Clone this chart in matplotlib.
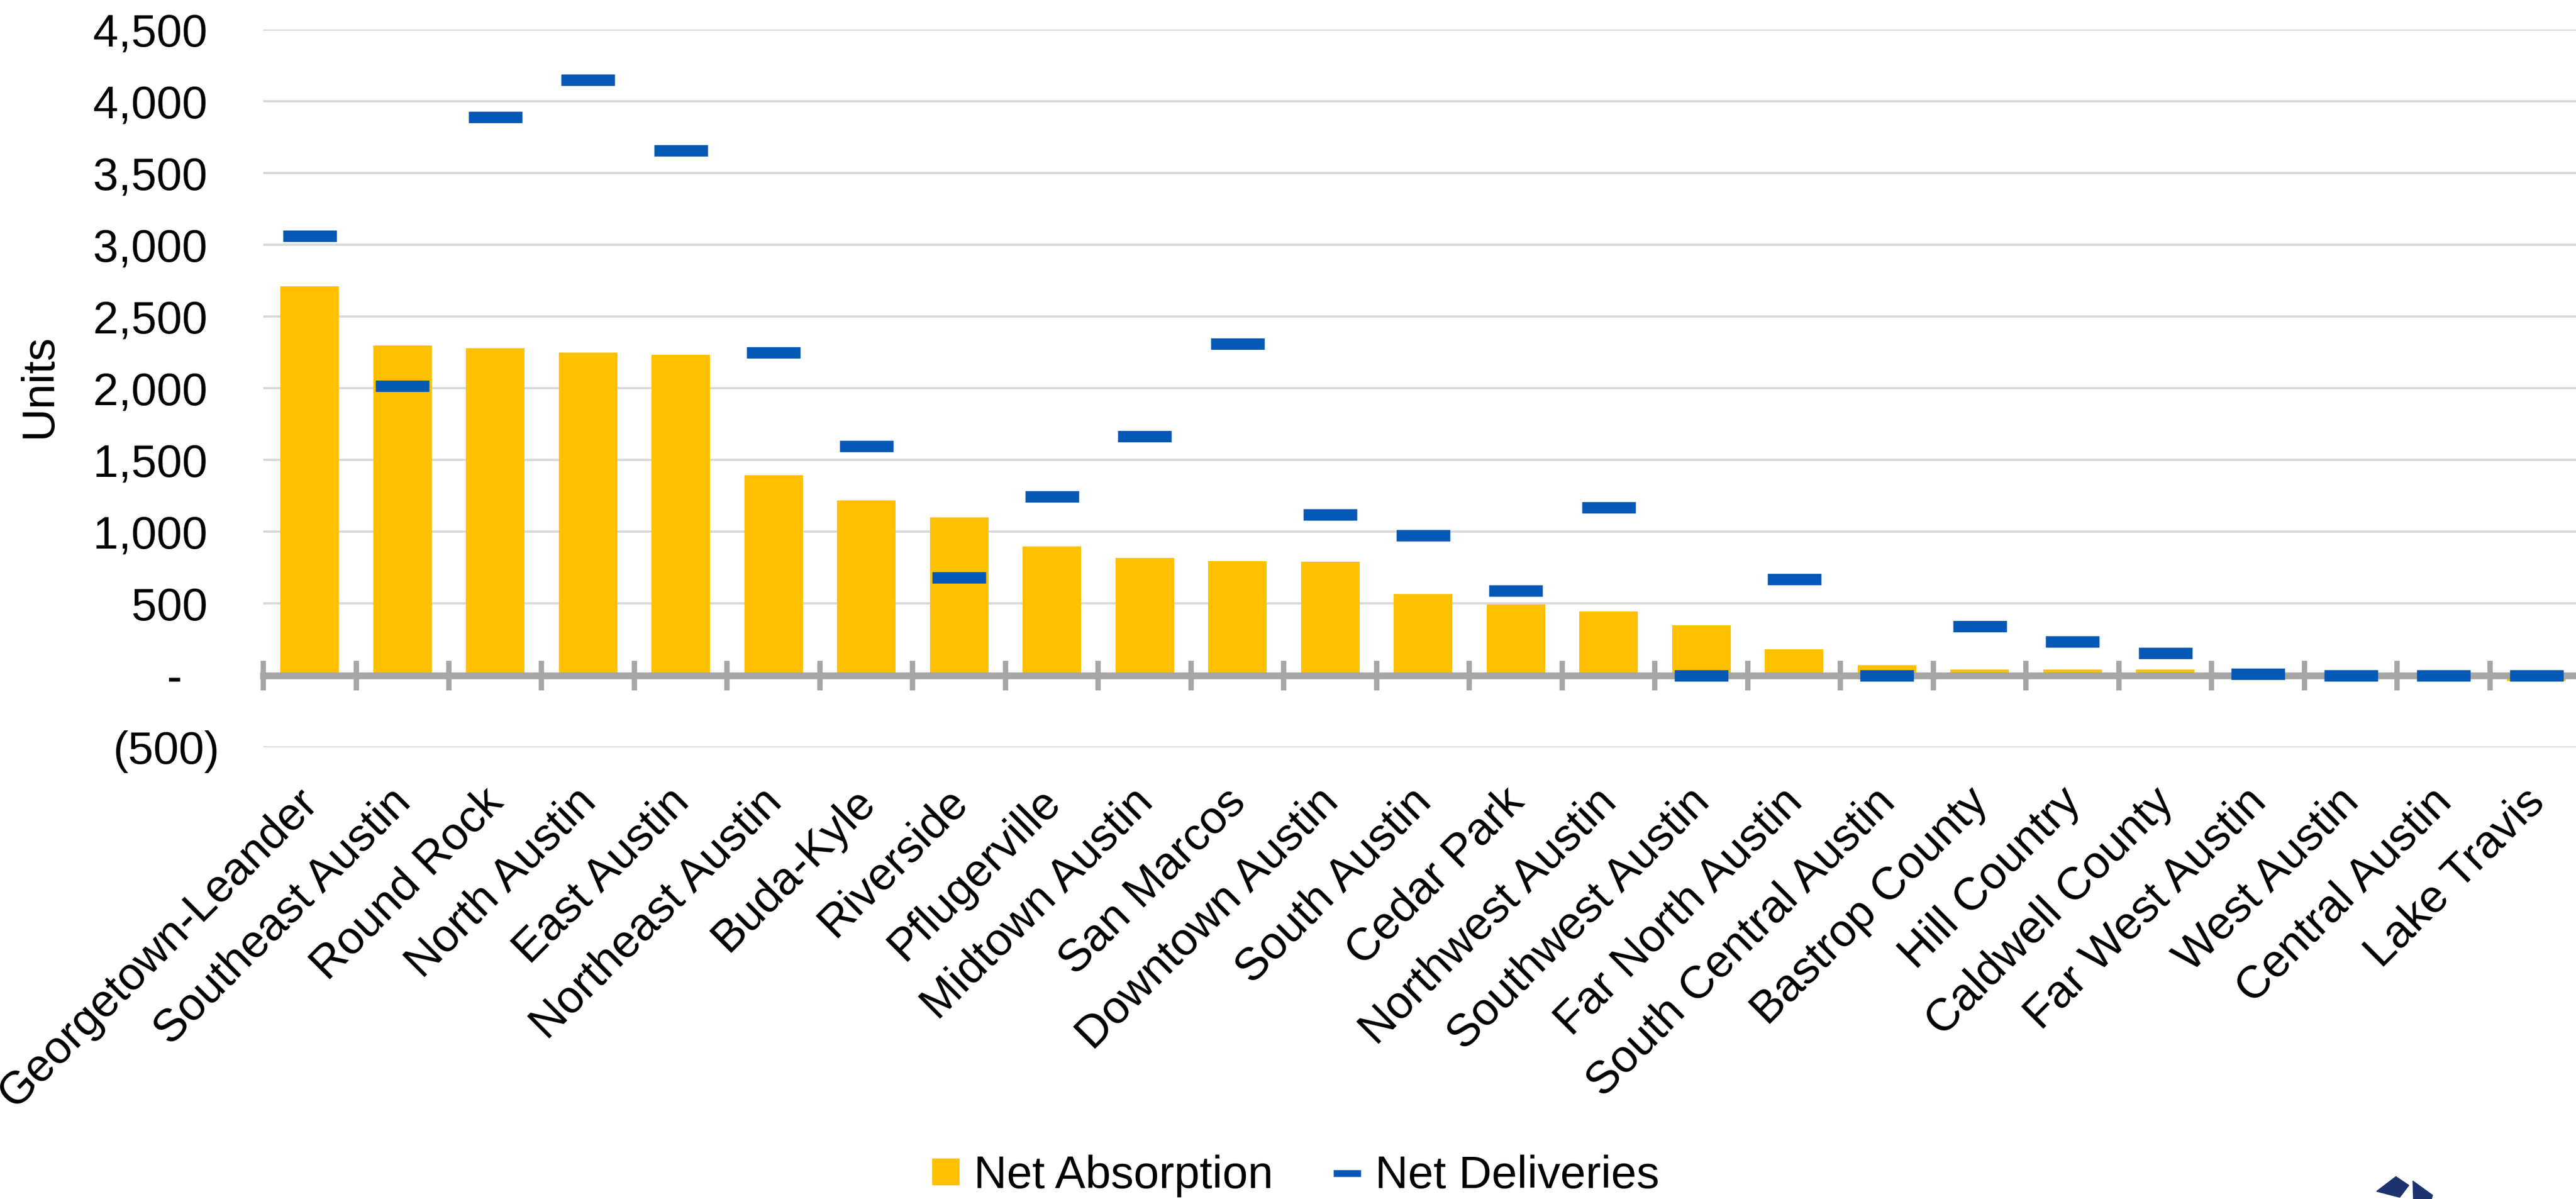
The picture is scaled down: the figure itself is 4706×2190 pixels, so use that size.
import numpy as np
import matplotlib
matplotlib.use("Agg")
import matplotlib.pyplot as plt
from matplotlib.patches import Patch, Polygon
from matplotlib.lines import Line2D
from matplotlib.ticker import FixedLocator, FuncFormatter
from matplotlib.transforms import ScaledTranslation

plt.rcParams['font.family'] = ['Liberation Sans', 'DejaVu Sans']

# Submarket data (units)
submarkets = [
    "Georgetown-Leander", "Southeast Austin", "Round Rock", "North Austin",
    "East Austin", "Northeast Austin", "Buda-Kyle", "Riverside", "Pflugerville",
    "Midtown Austin", "San Marcos", "Downtown Austin", "South Austin",
    "Cedar Park", "Northwest Austin", "Southwest Austin", "Far North Austin",
    "South Central Austin", "Bastrop County", "Hill Country", "Caldwell County",
    "Far West Austin", "West Austin", "Central Austin", "Lake Travis",
]
net_absorption = [
    2710, 2300, 2280, 2250, 2235, 1395, 1220, 1100, 900, 820, 795, 790,
    565, 495, 445, 350, 180, 70, 40, 40, 40, 0, 0, -20, -40,
]
net_deliveries = [
    3060, 2015, 3890, 4150, 3655, 2250, 1595, 680, 1245, 1665, 2310, 1120,
    975, 590, 1170, 0, 670, 0, 340, 235, 155, 8, 0, 0, 0,
]
y_ticks = [-500, 0, 500, 1000, 1500, 2000, 2500, 3000, 3500, 4000, 4500]
legend_labels = ["Net Absorption", "Net Deliveries"]

YELLOW = "#FFC000"
BLUE = "#0558B5"
GRID = "#D9D9D9"
AXIS_GRAY = "#A6A6A6"
FS = 60

W, H = 4706, 2190
fig = plt.figure(figsize=(W / 100, H / 100), dpi=100)
fig.patch.set_facecolor("white")

ax_left, ax_right = 481, 4718.5
ax_top, ax_bottom = 53.8, 1364.6
ax = fig.add_axes([ax_left / W, 1 - ax_bottom / H,
                   (ax_right - ax_left) / W, (ax_bottom - ax_top) / H])

x = np.arange(len(submarkets))
ymin, ymax = y_ticks[0], y_ticks[-1]
ax.set_xlim(-0.5, len(submarkets) - 0.5)
ax.set_ylim(ymin, ymax)

# Bars: net absorption
ax.bar(x, net_absorption, width=0.63, color=YELLOW, zorder=2)

# Dashes: net deliveries
ax.hlines(net_deliveries, x - 0.29, x + 0.29, colors=BLUE, linewidth=15,
          capstyle="butt", zorder=4)

# Gridlines and y axis
ax.set_axisbelow(True)
ax.yaxis.set_major_locator(FixedLocator(y_ticks))
ax.grid(axis="y", color=GRID, linewidth=2.9)
ax.grid(axis="x", visible=False)


def fmt(v, pos):
    if v > 0:
        return f"{int(v):,} "
    if v < 0:
        return f"({int(-v):,})"
    return "-   "


ax.yaxis.set_major_formatter(FuncFormatter(fmt))
ax.tick_params(axis="y", length=0, pad=57, labelsize=FS)
for s in ax.spines.values():
    s.set_visible(False)

ax.set_ylabel("Units", fontsize=FS)
ax.yaxis.set_label_coords(-0.0873, 0.503)

# Category labels along the bottom of the plot area
ax.set_xticks(x)
ax.set_xticklabels(submarkets, rotation=45, ha="right",
                   rotation_mode="anchor", fontsize=FS)
ax.tick_params(axis="x", length=0, pad=20)
shift = ScaledTranslation(-25 / 100, -33 / 100, fig.dpi_scale_trans)
for lbl in ax.get_xticklabels():
    lbl.set_transform(lbl.get_transform() + shift)

# Category axis crossing at zero with boundary ticks
zero_frac = (0 - ymin) / (ymax - ymin)
sec = ax.secondary_xaxis(zero_frac)
sec.set_xticks(np.arange(-0.5, len(submarkets), 1.0))
sec.set_xticklabels([])
sec.tick_params(axis="x", direction="inout", length=39, width=7,
                color=AXIS_GRAY)
for name, s in sec.spines.items():
    s.set_visible(name == "bottom")
sec.spines["bottom"].set_color(AXIS_GRAY)
sec.spines["bottom"].set_linewidth(9)
sec.set_zorder(3)

# Legend
handles = [
    Patch(facecolor=YELLOW, edgecolor="none"),
    Line2D([0], [0], color=BLUE, linewidth=9, solid_capstyle="butt"),
]
fig.legend(handles, legend_labels, loc="center", bbox_to_anchor=(0.503, 0.019),
           ncol=2, frameon=False, fontsize=FS, handlelength=0.6,
           handleheight=0.53, handletextpad=0.31, columnspacing=1.33)

# Corner logo mark
def px(pts):
    return [(px_x / W, 1 - px_y / H) for px_x, px_y in pts]


logo_color = "#1C3370"
fig.patches.append(Polygon(px([(4341.6, 2176), (4377, 2149), (4400.7, 2165), (4384, 2187)]),
                           closed=True, transform=fig.transFigure, color=logo_color))
fig.patches.append(Polygon(px([(4408, 2157), (4444, 2183), (4442, 2190), (4409, 2190)]),
                           closed=True, transform=fig.transFigure, color=logo_color))

fig.savefig("out.png", dpi=100, facecolor="white")
